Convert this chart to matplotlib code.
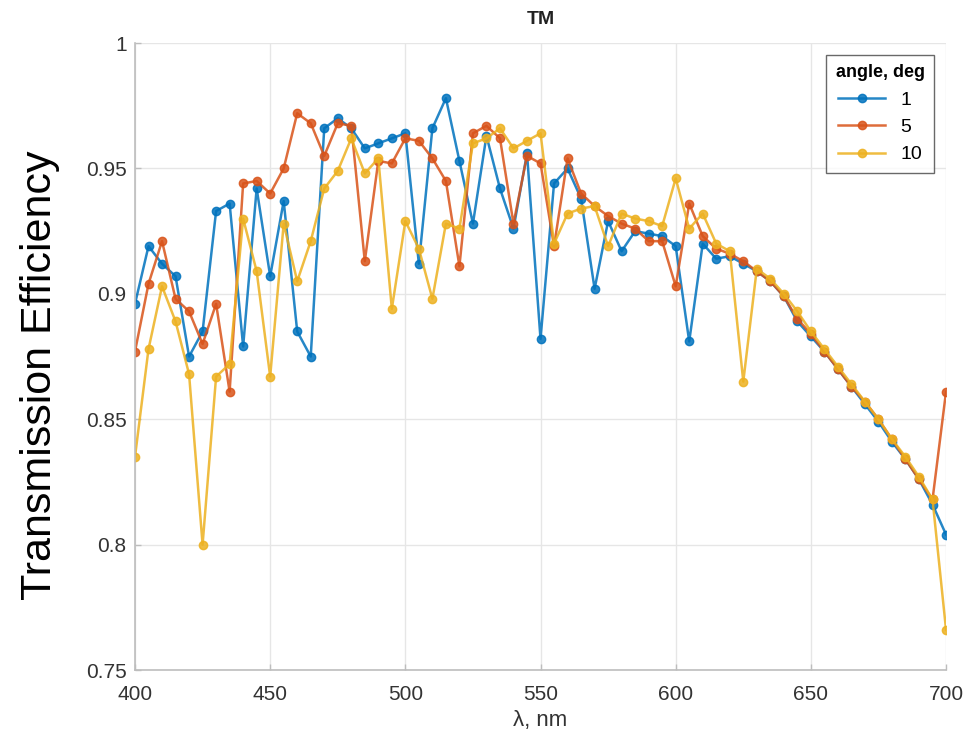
import matplotlib
matplotlib.use("Agg")
import matplotlib.pyplot as plt
import numpy as np
from matplotlib.ticker import FuncFormatter, MultipleLocator

# Wavelength grid (nm)
wavelength = list(range(400, 705, 5))

# Transmission efficiency for each incidence angle
angle_1 = [0.896, 0.919, 0.912, 0.907, 0.875, 0.885, 0.933, 0.936, 0.879, 0.942,
           0.907, 0.937, 0.885, 0.875, 0.966, 0.970, 0.966, 0.958, 0.960, 0.962,
           0.964, 0.912, 0.966, 0.978, 0.953, 0.928, 0.963, 0.942, 0.926, 0.956,
           0.882, 0.944, 0.950, 0.938, 0.902, 0.929, 0.917, 0.925, 0.924, 0.923,
           0.919, 0.881, 0.920, 0.914, 0.915, 0.912, 0.909, 0.905, 0.899, 0.889,
           0.883, 0.877, 0.870, 0.863, 0.856, 0.849, 0.841, 0.834, 0.826, 0.816,
           0.804]
angle_5 = [0.877, 0.904, 0.921, 0.898, 0.893, 0.880, 0.896, 0.861, 0.944, 0.945,
           0.940, 0.950, 0.972, 0.968, 0.955, 0.968, 0.967, 0.913, 0.953, 0.952,
           0.962, 0.961, 0.954, 0.945, 0.911, 0.964, 0.967, 0.962, 0.928, 0.955,
           0.952, 0.919, 0.954, 0.940, 0.935, 0.931, 0.928, 0.926, 0.921, 0.921,
           0.903, 0.936, 0.923, 0.918, 0.916, 0.913, 0.909, 0.905, 0.899, 0.890,
           0.884, 0.877, 0.870, 0.863, 0.857, 0.850, 0.842, 0.834, 0.826, 0.818,
           0.861]
angle_10 = [0.835, 0.878, 0.903, 0.889, 0.868, 0.800, 0.867, 0.872, 0.930, 0.909,
            0.867, 0.928, 0.905, 0.921, 0.942, 0.949, 0.962, 0.948, 0.954, 0.894,
            0.929, 0.918, 0.898, 0.928, 0.926, 0.960, 0.962, 0.966, 0.958, 0.961,
            0.964, 0.920, 0.932, 0.934, 0.935, 0.919, 0.932, 0.930, 0.929, 0.927,
            0.946, 0.926, 0.932, 0.920, 0.917, 0.865, 0.910, 0.906, 0.900, 0.893,
            0.885, 0.878, 0.871, 0.864, 0.857, 0.850, 0.842, 0.835, 0.827, 0.818,
            0.766]

series_labels = ["1", "5", "10"]
colors = ["#0072BD", "#D95319", "#EDB120"]

plt.rcParams["font.family"] = ["Liberation Sans", "DejaVu Sans"]

fig = plt.figure(figsize=(9.74, 7.42), dpi=100)
ax = fig.add_axes([0.1386, 0.097, 0.8327, 0.845])

for values, label, color in zip([angle_1, angle_5, angle_10], series_labels, colors):
    ax.plot(wavelength, values, "-o", color=color, lw=1.8, ms=6,
            mfc=color, mec=color, alpha=0.85, label=label)

ax.set_xlim(400, 700)
ax.set_ylim(0.75, 1.0)
ax.xaxis.set_major_locator(MultipleLocator(50))
ax.yaxis.set_major_locator(MultipleLocator(0.05))
ax.yaxis.set_major_formatter(FuncFormatter(lambda v, p: f"{v:.2f}".rstrip("0").rstrip(".")))

ax.grid(True, color="#e6e6e6", lw=1.0)
ax.set_axisbelow(True)
for side in ["top", "right"]:
    ax.spines[side].set_visible(False)
for side in ["left", "bottom"]:
    ax.spines[side].set_color("#bdbdbd")
    ax.spines[side].set_linewidth(1.2)
ax.tick_params(axis="both", labelsize=15, labelcolor="#333333", direction="in",
               length=4, width=1.0, color="#bdbdbd")
ax.tick_params(axis="x", pad=11)
ax.tick_params(axis="y", pad=6)

ax.set_title("TM", fontsize=14, fontweight="bold", color="#222222", pad=14)
ax.set_xlabel("λ, nm", fontsize=16, color="#333333", labelpad=4)
ax.set_ylabel("Transmission Efficiency", fontsize=31, color="black")
ax.yaxis.set_label_coords(-0.092, 0.47)

leg = ax.legend(title="angle, deg", loc="upper right", fontsize=14,
                title_fontproperties={"weight": "bold", "size": 13},
                frameon=True, fancybox=False, edgecolor="#444444",
                handlelength=2.4, borderaxespad=0.6, borderpad=0.5)
leg.get_frame().set_linewidth(1.0)

fig.savefig("out.png", dpi=100, facecolor="white")
